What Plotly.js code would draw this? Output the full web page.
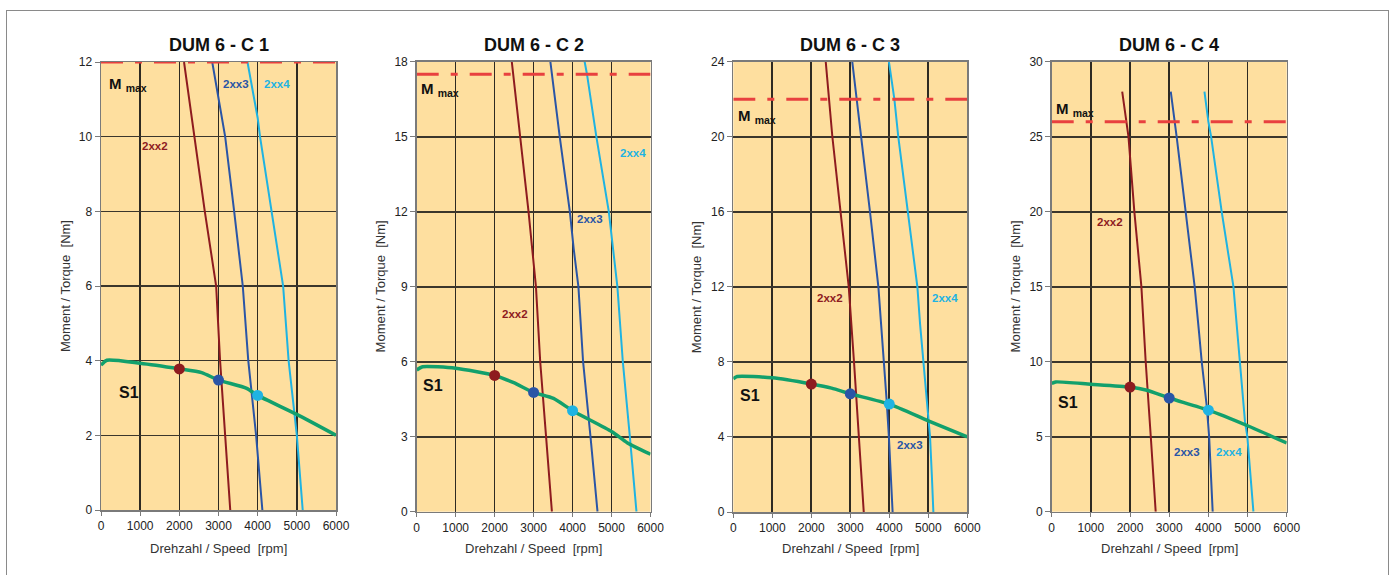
<!DOCTYPE html>
<html>
<head>
<meta charset="utf-8">
<script src="https://cdn.plot.ly/plotly-3.0.1.min.js"></script>
<style>
  html, body { margin: 0; padding: 0; background: #fff; }
  #wrap { position: relative; width: 1394px; height: 575px; overflow: hidden; }
  #frame { position: absolute; left: 6px; top: 10px; width: 1383px; height: 600px; border: 1px solid #8a8a8a; box-sizing: border-box; pointer-events: none; }
  #chart { position: absolute; left: 0; top: 0; width: 1394px; height: 575px; }
</style>
</head>
<body>
<div id="wrap">
  <div id="frame"></div>
  <div id="chart"></div>
</div>
<script>
// ---------------- DATA ----------------
const chartTitles = ["DUM 6 - C 1", "DUM 6 - C 2", "DUM 6 - C 3", "DUM 6 - C 4"];
const speedTicks = [0, 1000, 2000, 3000, 4000, 5000, 6000];
const torqueMax = [12, 18, 24, 30];
const torqueStep = [2, 3, 4, 5];
const mMax = [12, 17.5, 22, 26];
const motorNames = ["2xx2", "2xx3", "2xx4"];
const ratedSpeed = [2000, 3000, 4000];

// C1
const c1_2xx2_T = [12, 10, 8, 6, 4, 2, 0];
const c1_2xx2_N = [2120, 2380, 2650, 2940, 3040, 3170, 3300];
const c1_2xx3_T = [12, 11, 10, 8, 6, 4, 2, 0];
const c1_2xx3_N = [2840, 3000, 3170, 3400, 3620, 3760, 3960, 4120];
const c1_2xx4_T = [12, 10.5, 10, 8, 6, 4, 2, 0];
const c1_2xx4_N = [3740, 4000, 4060, 4360, 4650, 4790, 5000, 5150];
const c1_S1_N = [0, 150, 1000, 2000, 2570, 3000, 3720, 4000, 5000, 6000];
const c1_S1_T = [3.88, 4.01, 3.93, 3.78, 3.68, 3.48, 3.26, 3.07, 2.56, 2.0];
const c1_rated_T = [3.78, 3.48, 3.07];

// C2
const c2_2xx2_T = [18, 15, 12, 9, 6, 3, 0];
const c2_2xx2_N = [2440, 2660, 2870, 3060, 3170, 3320, 3470];
const c2_2xx3_T = [18, 17, 15, 12, 10.5, 9, 6, 3, 0];
const c2_2xx3_N = [3430, 3510, 3670, 3930, 4030, 4150, 4270, 4460, 4640];
const c2_2xx4_T = [18, 17.5, 15, 12, 9, 6, 3, 0];
const c2_2xx4_N = [4310, 4370, 4610, 4930, 5150, 5290, 5470, 5640];
const c2_S1_N = [0, 150, 1000, 2000, 2490, 3000, 3510, 4000, 5010, 5400, 6000];
const c2_S1_T = [5.67, 5.8, 5.74, 5.45, 5.16, 4.77, 4.53, 4.04, 3.2, 2.76, 2.3];
const c2_rated_T = [5.45, 4.77, 4.04];

// C3
const c3_2xx2_T = [24, 20, 16, 12, 8, 4, 0];
const c3_2xx2_N = [2370, 2540, 2750, 2960, 3095, 3220, 3345];
const c3_2xx3_T = [24, 22, 20, 16, 12, 8, 6, 4, 2, 0];
const c3_2xx3_N = [3050, 3165, 3290, 3505, 3720, 3865, 3930, 3990, 4035, 4085];
const c3_2xx4_T = [24, 22, 20, 16, 12, 10, 8, 4, 2, 0];
const c3_2xx4_N = [3990, 4130, 4230, 4470, 4720, 4790, 4870, 5045, 5090, 5130];
const c3_S1_N = [0, 100, 1000, 2000, 2520, 3000, 4000, 5000, 6000];
const c3_S1_T = [7.1, 7.22, 7.15, 6.82, 6.6, 6.3, 5.75, 4.86, 4.0];
const c3_rated_T = [6.82, 6.3, 5.75];

// C4
const c4_2xx2_T = [28, 26, 25, 23, 20, 15, 10, 5, 0];
const c4_2xx2_N = [1800, 1900, 1960, 2020, 2110, 2290, 2400, 2530, 2655];
const c4_2xx3_T = [28, 26, 25, 20, 15, 12, 10, 7, 5, 0];
const c4_2xx3_N = [3040, 3130, 3190, 3420, 3650, 3760, 3830, 3960, 4020, 4110];
const c4_2xx4_T = [28, 26, 25, 20, 15, 10, 6, 5, 0];
const c4_2xx4_N = [3900, 4000, 4070, 4340, 4640, 4810, 4935, 4995, 5150];
const c4_S1_N = [0, 100, 1000, 2000, 2430, 3000, 4000, 5000, 6000];
const c4_S1_T = [8.55, 8.65, 8.5, 8.31, 8.1, 7.58, 6.77, 5.73, 4.58];
const c4_rated_T = [8.31, 7.58, 6.77];

// ---------------- STYLE / LAYOUT ----------------
const W = 1394, H = 575;
const motorColors = ["#8E1B1F", "#2A55A6", "#1FB3E2"];
const s1Color = "#12A06C";
const mmaxColor = "#E8403F";
const bgColor = "#FEDF9F";
const FONT = "Liberation Sans, Arial, sans-serif";

const charts = [
  { motors: [[c1_2xx2_N, c1_2xx2_T], [c1_2xx3_N, c1_2xx3_T], [c1_2xx4_N, c1_2xx4_T]], s1: [c1_S1_N, c1_S1_T], rated: c1_rated_T,
    px: [101, 336], py: [62, 510],
    lab: { "2xx2": [1379, 9.75], "2xx3": [3447, 11.41], "2xx4": [4493, 11.41], "S1": [715, 3.16], "M": [150, 11.4] } },
  { motors: [[c2_2xx2_N, c2_2xx2_T], [c2_2xx3_N, c2_2xx3_T], [c2_2xx4_N, c2_2xx4_T]], s1: [c2_S1_N, c2_S1_T], rated: c2_rated_T,
    px: [416.7, 650.5], py: [61.7, 511.7],
    lab: { "2xx2": [2528, 7.9], "2xx3": [4457, 11.7], "2xx4": [5562, 14.35], "S1": [420, 5.03], "M": [70, 16.87] } },
  { motors: [[c3_2xx2_N, c3_2xx2_T], [c3_2xx3_N, c3_2xx3_T], [c3_2xx4_N, c3_2xx4_T]], s1: [c3_S1_N, c3_S1_T], rated: c3_rated_T,
    px: [733.3, 967.3], py: [61.7, 512],
    lab: { "2xx2": [2479, 11.4], "2xx3": [4531, 3.56], "2xx4": [5428, 11.4], "S1": [428, 6.22], "M": [80, 21.1] } },
  { motors: [[c4_2xx2_N, c4_2xx2_T], [c4_2xx3_N, c4_2xx3_T], [c4_2xx4_N, c4_2xx4_T]], s1: [c4_S1_N, c4_S1_T], rated: c4_rated_T,
    px: [1051.7, 1286.7], py: [61.7, 511.7],
    lab: { "2xx2": [1488, 19.3], "2xx3": [3454, 3.98], "2xx4": [4526, 3.98], "S1": [416, 7.25], "M": [70, 26.8] } }
];

const traces = [];
const annotations = [];
const layout = {
  width: W, height: H,
  margin: { l: 0, r: 0, t: 0, b: 0 },
  paper_bgcolor: "rgba(0,0,0,0)",
  plot_bgcolor: bgColor,
  showlegend: false,
  font: { family: FONT, color: "#222" },
  annotations: annotations
};

charts.forEach((c, i) => {
  const n = i === 0 ? "" : String(i + 1);
  const xa = "x" + n, ya = "y" + n;
  const xdom = [c.px[0] / W, c.px[1] / W];
  const ydom = [1 - c.py[1] / H, 1 - c.py[0] / H];

  layout["xaxis" + n] = {
    domain: xdom, anchor: ya, range: [0, 6000],
    tickvals: speedTicks, ticktext: speedTicks.map(String),
    showgrid: true, gridcolor: "#2e2a22", gridwidth: 1.6,
    zeroline: false, showline: true, mirror: true, linecolor: "#7a7a7a", linewidth: 1.5,
    ticks: "outside", ticklen: 4, tickcolor: "#7a7a7a",
    tickfont: { size: 12, color: "#222", family: FONT }, fixedrange: true
  };
  layout["yaxis" + n] = {
    domain: ydom, anchor: xa, range: [0, torqueMax[i]],
    tick0: 0, dtick: torqueStep[i],
    showgrid: true, gridcolor: "#3b362c", gridwidth: 1.6,
    zeroline: false, showline: true, mirror: true, linecolor: "#7a7a7a", linewidth: 1.5,
    ticks: "outside", ticklen: 5, tickcolor: "#7a7a7a",
    tickfont: { size: 12, color: "#222", family: FONT }, fixedrange: true
  };

  c.motors.forEach((m, k) => {
    traces.push({ x: m[0], y: m[1], xaxis: xa, yaxis: ya, mode: "lines", type: "scatter",
      line: { color: motorColors[k], width: 2 }, hoverinfo: "skip" });
  });
  traces.push({ x: [speedTicks[0], speedTicks[speedTicks.length - 1]], y: [mMax[i], mMax[i]], xaxis: xa, yaxis: ya,
    mode: "lines", type: "scatter", line: { color: mmaxColor, width: 3, dash: "22px,12px,7px,12px" }, hoverinfo: "skip" });
  traces.push({ x: c.s1[0], y: c.s1[1], xaxis: xa, yaxis: ya, mode: "lines", type: "scatter",
    line: { color: s1Color, width: 3.5, shape: "spline", smoothing: 0.6 }, hoverinfo: "skip" });
  traces.push({ x: ratedSpeed, y: c.rated, xaxis: xa, yaxis: ya, mode: "markers", type: "scatter",
    marker: { color: motorColors, size: 11, line: { width: 0 } }, hoverinfo: "skip" });

  motorNames.forEach((nm, k) => {
    annotations.push({ xref: xa, yref: ya, x: c.lab[nm][0], y: c.lab[nm][1], text: "<b>" + nm + "</b>",
      showarrow: false, font: { size: 11.5, color: motorColors[k], family: FONT } });
  });
  annotations.push({ xref: xa, yref: ya, x: c.lab["S1"][0], y: c.lab["S1"][1], text: "<b>S1</b>",
    showarrow: false, font: { size: 16, color: "#111", family: FONT } });
  annotations.push({ xref: xa, yref: ya, x: c.lab["M"][0], y: c.lab["M"][1], xanchor: "left",
    text: "<b>M</b> <sub><b>max</b></sub>", showarrow: false, font: { size: 15, color: "#111", family: FONT } });

  annotations.push({ xref: "paper", yref: "paper", x: (xdom[0] + xdom[1]) / 2, y: 1 - 45 / H,
    text: "<b>" + chartTitles[i] + "</b>", showarrow: false, xanchor: "center", yanchor: "middle",
    font: { size: 18, color: "#111", family: FONT } });
  annotations.push({ xref: "paper", yref: "paper", x: (xdom[0] + xdom[1]) / 2, y: 1 - 548 / H,
    text: "Drehzahl / Speed\u00A0 [rpm]", showarrow: false, xanchor: "center", yanchor: "middle",
    font: { size: 13, color: "#333", family: FONT } });
  annotations.push({ xref: "paper", yref: "paper", x: (c.px[0] - 36) / W, y: (ydom[0] + ydom[1]) / 2,
    text: "Moment / Torque\u00A0 [Nm]", showarrow: false, textangle: -90, xanchor: "center", yanchor: "middle",
    font: { size: 13, color: "#333", family: FONT } });
});

Plotly.newPlot("chart", traces, layout, { displayModeBar: false, staticPlot: true });
</script>
</body>
</html>
